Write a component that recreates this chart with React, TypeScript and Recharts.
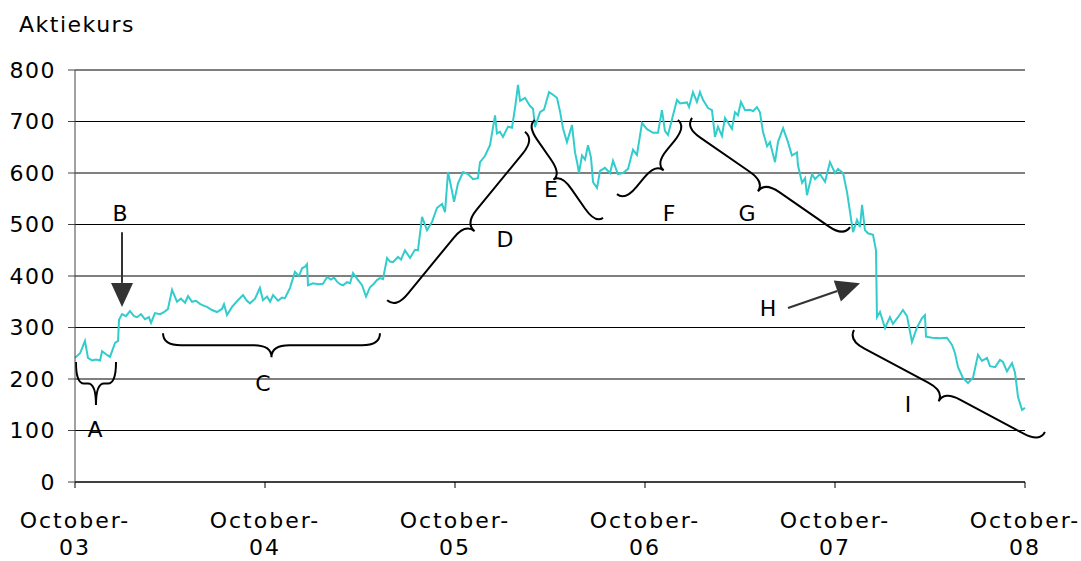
import {
  CartesianGrid,
  Line,
  LineChart,
  ReferenceDot,
  ReferenceLine,
  XAxis,
  YAxis,
} from "recharts";

// Months since October 2003 and the share price.
const MONTHS = [
  0, 0.32, 0.63, 0.82, 1.07, 1.33, 1.58, 1.71, 1.96, 2.21,
  2.53, 2.72, 2.78, 2.97, 3.22, 3.47, 3.73, 3.92, 4.17, 4.42,
  4.67, 4.8, 5.05, 5.37, 5.62, 5.87, 6.13, 6.44, 6.69, 6.95,
  7.14, 7.39, 7.64, 7.89, 8.15, 8.34, 8.65, 8.97, 9.28, 9.41,
  9.6, 9.92, 10.23, 10.61, 10.86, 11.05, 11.37, 11.68, 11.87, 12.13,
  12.32, 12.51, 12.82, 13.07, 13.26, 13.58, 13.89, 14.15, 14.34, 14.53,
  14.65, 14.72, 15.03, 15.35, 15.66, 15.92, 16.17, 16.36, 16.55, 16.74,
  16.93, 17.18, 17.37, 17.56, 17.81, 18.13, 18.38, 18.63, 18.88, 19.07,
  19.26, 19.45, 19.71, 19.89, 20.08, 20.4, 20.59, 20.84, 21.16, 21.47,
  21.66, 21.92, 22.23, 22.55, 22.86, 23.18, 23.37, 23.56, 23.81, 23.94,
  24.19, 24.51, 24.82, 25.14, 25.45, 25.58, 25.89, 26.21, 26.53, 26.65,
  26.84, 27.03, 27.35, 27.6, 27.79, 27.98, 28.11, 28.42, 28.74, 28.93,
  29.05, 29.37, 29.62, 29.94, 30.19, 30.44, 30.63, 30.82, 31.07, 31.39,
  31.58, 31.71, 31.83, 32.02, 32.21, 32.4, 32.59, 32.72, 32.97, 33.16,
  33.47, 33.79, 33.98, 34.29, 34.61, 34.93, 35.24, 35.49, 35.81, 36.13,
  36.51, 36.82, 37.07, 37.26, 37.45, 37.71, 38.02, 38.21, 38.65, 38.78,
  39.03, 39.28, 39.47, 39.66, 39.98, 40.23, 40.42, 40.61, 40.86, 41.05,
  41.24, 41.49, 41.68, 41.87, 42.06, 42.32, 42.63, 42.82, 43.07, 43.26,
  43.45, 43.71, 43.89, 44.21, 44.4, 44.72, 45.03, 45.28, 45.6, 45.66,
  45.92, 46.11, 46.23, 46.55, 46.74, 47.05, 47.37, 47.68, 48.0, 48.19,
  48.51, 48.76, 48.95, 49.14, 49.39, 49.58, 49.71, 49.89, 50.08, 50.4,
  50.59, 50.65, 50.84, 51.16, 51.47, 51.66, 51.98, 52.29, 52.55, 52.86,
  53.18, 53.49, 53.68, 53.75, 54.13, 54.63, 55.07, 55.39, 55.58, 55.77,
  56.08, 56.4, 56.72, 57.03, 57.28, 57.6, 57.79, 58.11, 58.42, 58.61,
  58.86, 59.18, 59.37, 59.56, 59.81, 60,
];

const PRICES = [
  241, 250, 274, 241, 236, 238, 236, 254, 248, 243,
  270, 274, 315, 326, 322, 332, 322, 320, 326, 316,
  320, 309, 328, 326, 330, 336, 373, 350, 356, 348,
  361, 350, 352, 346, 342, 340, 334, 330, 336, 345,
  324, 340, 351, 363, 352, 347, 356, 377, 353, 360,
  350, 363, 352, 358, 357, 377, 408, 400, 415, 418,
  423, 382, 386, 384, 385, 398, 393, 397, 389, 384,
  382, 388, 386, 406, 395, 382, 360, 378, 385, 392,
  396, 394, 435, 428, 427, 437, 432, 450, 435, 451,
  450, 515, 489, 505, 532, 540, 524, 602, 565, 544,
  580, 602, 598, 588, 590, 621, 633, 654, 712, 677,
  680, 670, 690, 688, 726, 771, 740, 746, 730, 725,
  689, 718, 723, 757, 752, 746, 720, 687, 660, 693,
  640, 621, 600, 634, 626, 654, 630, 582, 571, 604,
  610, 600, 624, 598, 600, 608, 645, 635, 697, 685,
  678, 678, 722, 682, 674, 705, 742, 735, 737, 728,
  757, 738, 757, 742, 726, 722, 670, 690, 672, 707,
  698, 686, 718, 712, 738, 722, 723, 720, 728, 718,
  680, 652, 660, 621, 660, 687, 660, 634, 640, 615,
  581, 590, 557, 598, 588, 598, 583, 621, 600, 608,
  600, 563, 524, 485, 509, 495, 538, 489, 483, 480,
  450, 320, 330, 299, 320, 307, 320, 334, 322, 272,
  300, 318, 324, 282, 280, 279, 280, 266, 250, 223,
  202, 192, 203, 247, 235, 241, 225, 223, 237, 233,
  215, 231, 212, 165, 140, 144,
];

const Y_TICKS = [0, 100, 200, 300, 400, 500, 600, 700, 800];
const X_TICKS = [0, 12, 24, 36, 48, 60];
const X_LABELS = ["October-03", "October-04", "October-05", "October-06", "October-07", "October-08"];

// annotations, in (month, price)
const BRACES = [
  { from: [0.06, 233], to: [2.59, 233], depth: 43 },
  { from: [5.56, 289], to: [19.26, 289], depth: 24 },
  { from: [19.71, 353], to: [28.42, 680], depth: 24 },
  { from: [29.05, 703], to: [33.35, 513], depth: 19 },
  { from: [34.23, 559], to: [38.08, 703], depth: 21 },
  { from: [38.97, 707], to: [48.95, 495], depth: 23 },
  { from: [49.2, 295], to: [61.26, 97], depth: 23 },
];
const ARROWS = [
  { from: [2.97, 485], to: [2.97, 340] },
  { from: [45.03, 338], to: [49.58, 386] },
];
const LETTERS = [
  { text: "A", at: [1.26, 101] },
  { text: "B", at: [2.84, 522] },
  { text: "C", at: [11.87, 192] },
  { text: "D", at: [27.16, 470] },
  { text: "E", at: [30.06, 567] },
  { text: "F", at: [37.52, 522] },
  { text: "G", at: [42.44, 522] },
  { text: "H", at: [43.77, 336] },
  { text: "I", at: [52.61, 150] },
];

const FONT = "'DejaVu Sans', Verdana, sans-serif";

const data = MONTHS.map((m, i) => ({ m, p: PRICES[i] }));

// curly brace from (x1,y1) to (x2,y2), tip pushed out by w on the left-hand normal
const bracePath = (x1: number, y1: number, x2: number, y2: number, w: number) => {
  const len = Math.hypot(x2 - x1, y2 - y1);
  const ux = (x2 - x1) / len;
  const uy = (y2 - y1) / len;
  const nx = -uy;
  const ny = ux;
  const h = w / 2;
  const r = Math.min(18, len * 0.2);
  const at = (along: number, depth: number) =>
    `${x1 + ux * along + nx * depth},${y1 + uy * along + ny * depth}`;
  const mid = len / 2;
  return (
    `M${at(0, 0)} Q${at(0, h)} ${at(r, h)} L${at(mid - r, h)} Q${at(mid, h)} ${at(mid, w)} ` +
    `M${at(len, 0)} Q${at(len, h)} ${at(len - r, h)} L${at(mid + r, h)} Q${at(mid, h)} ${at(mid, w)}`
  );
};

const BraceShape = (depth: number) => (props: any) => (
  <path
    d={bracePath(props.x1, props.y1, props.x2, props.y2, depth)}
    fill="none"
    stroke="#000"
    strokeWidth={2}
  />
);

const ArrowShape = (props: any) => {
  const { x1, y1, x2, y2 } = props;
  const len = Math.hypot(x2 - x1, y2 - y1);
  const ux = (x2 - x1) / len;
  const uy = (y2 - y1) / len;
  const head = 24;
  const half = 11;
  const bx = x2 - ux * head;
  const by = y2 - uy * head;
  return (
    <g>
      <line x1={x1} y1={y1} x2={bx} y2={by} stroke="#333" strokeWidth={2} />
      <polygon
        points={`${x2},${y2} ${bx - uy * half},${by + ux * half} ${bx + uy * half},${by - ux * half}`}
        fill="#333"
      />
    </g>
  );
};

const XTick = (props: any) => {
  const { x, y, index } = props;
  const [top, bottom] = X_LABELS[index].split("-");
  return (
    <text x={x} y={y} textAnchor="middle" fontSize={22} fontFamily={FONT} fill="#000" letterSpacing={2}>
      <tspan x={x} dy={38}>{`${top}-`}</tspan>
      <tspan x={x} dy={27}>{bottom}</tspan>
    </text>
  );
};

export default function App() {
  return (
    <div
      style={{
        position: "absolute",
        left: 0,
        top: 0,
        width: 1081,
        height: 561,
        background: "#fff",
        fontFamily: FONT,
      }}
    >
      <div
        style={{
          position: "absolute",
          left: 19,
          top: 14,
          fontSize: 22,
          lineHeight: "22px",
          letterSpacing: 1.5,
          color: "#000",
        }}
      >
        Aktiekurs
      </div>
      <LineChart width={1081} height={561} data={data} margin={{ top: 70, right: 56, left: 0, bottom: 0 }}>
        <CartesianGrid vertical={false} stroke="#000" strokeWidth={1} />
        <XAxis
          dataKey="m"
          type="number"
          domain={[0, 60]}
          ticks={X_TICKS}
          interval={0}
          height={79}
          tickSize={6}
          tickMargin={2}
          axisLine={{ stroke: "#000" }}
          tickLine={{ stroke: "#000" }}
          tick={<XTick />}
        />
        <YAxis
          domain={[0, 800]}
          ticks={Y_TICKS}
          interval={0}
          width={75}
          tickSize={7}
          tickMargin={12}
          axisLine={{ stroke: "#444" }}
          tickLine={{ stroke: "#444" }}
          tick={{ fontSize: 22, fill: "#000", fontFamily: FONT, letterSpacing: 1.5 }}
        />
        <Line
          dataKey="p"
          type="linear"
          stroke="#33CCCC"
          strokeWidth={2}
          dot={false}
          isAnimationActive={false}
        />
        {BRACES.map((b, i) => (
          <ReferenceLine
            key={`brace-${i}`}
            segment={[
              { x: b.from[0], y: b.from[1] },
              { x: b.to[0], y: b.to[1] },
            ]}
            ifOverflow="visible"
            shape={BraceShape(b.depth)}
          />
        ))}
        {ARROWS.map((a, i) => (
          <ReferenceLine
            key={`arrow-${i}`}
            segment={[
              { x: a.from[0], y: a.from[1] },
              { x: a.to[0], y: a.to[1] },
            ]}
            ifOverflow="visible"
            shape={ArrowShape}
          />
        ))}
        {LETTERS.map((l) => (
          <ReferenceDot
            key={l.text}
            x={l.at[0]}
            y={l.at[1]}
            ifOverflow="visible"
            shape={(p: any) => (
              <text
                x={p.cx}
                y={p.cy}
                textAnchor="middle"
                dominantBaseline="central"
                fontSize={22}
                fontFamily={FONT}
                fill="#000"
              >
                {l.text}
              </text>
            )}
          />
        ))}
      </LineChart>
    </div>
  );
}
